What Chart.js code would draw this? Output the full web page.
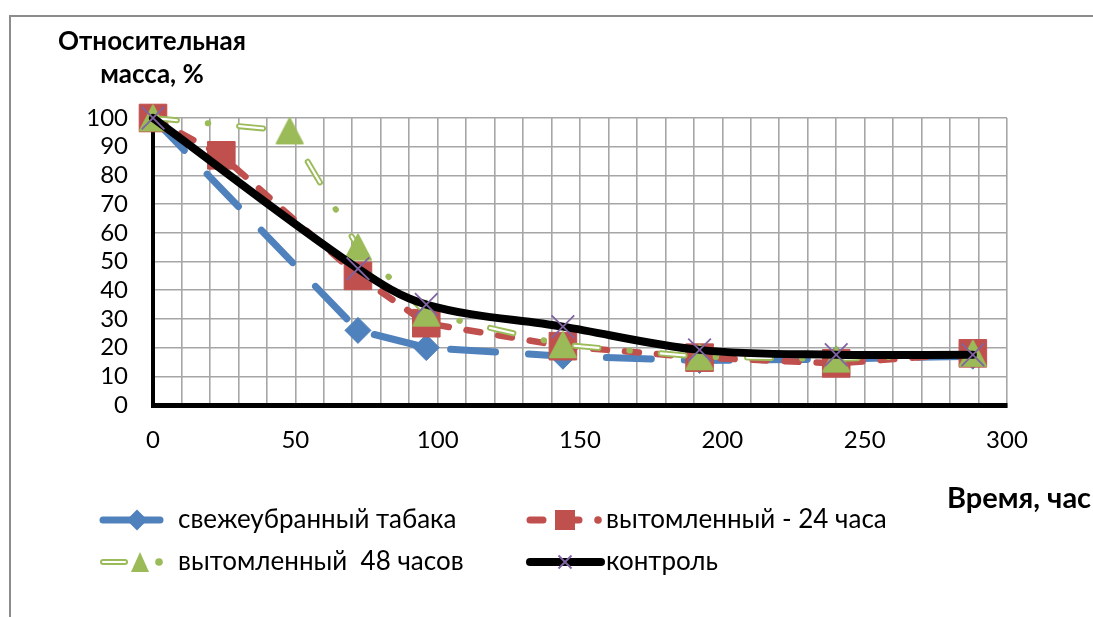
<!DOCTYPE html>
<html>
<head>
<meta charset="utf-8">
<script src="https://cdn.jsdelivr.net/npm/chart.js@4/dist/chart.umd.min.js"></script>
<style>
  html, body { margin: 0; padding: 0; background: #fff; }
  canvas { display: block; }
</style>
</head>
<body>
<canvas id="chart" width="1093" height="617"></canvas>
<script>
// Drying curves: relative mass (%) versus time (hours)
const hoursFresh   = [0, 72, 96, 144, 192, 240, 288];
const massFresh    = [100, 26, 20, 17, 15.5, 16, 17];

const hours24      = [0, 24, 72, 96, 144, 192, 240, 288];
const mass24       = [100, 87, 45, 28.5, 20.5, 16.5, 14.5, 18];

const hours48      = [0, 48, 72, 96, 144, 192, 240, 288];
const mass48       = [100, 95.5, 55, 32, 21, 16.8, 16, 18];

const hoursControl = [0, 72, 96, 144, 192, 240, 288];
const massControl  = [100, 47.5, 35, 27.3, 19.2, 17.5, 17.5];

const seriesNames = ['свежеубранный табака', 'вытомленный - 24 часа', 'вытомленный  48 часов', 'контроль'];
const yTitleLines = ['Относительная', 'масса, %'];
const xTitle = 'Время, час';

const BLUE = '#4F81BD', RED = '#C0504D', GREEN = '#9BBB59', PURPLE = '#8064A2';
const FONT = 'Lato, "Noto Sans", sans-serif';

const toPoints = (xs, ys) => xs.map((x, i) => ({ x: x, y: ys[i] }));

// Triangle marker centred on its bounding box
function triangleMarker(w, h, color) {
  const pad = 2;
  const c = document.createElement('canvas');
  c.width = w + pad * 2; c.height = h + pad * 2;
  const g = c.getContext('2d');
  g.beginPath();
  g.moveTo(c.width / 2, pad);
  g.lineTo(pad + w, pad + h);
  g.lineTo(pad, pad + h);
  g.closePath();
  g.fillStyle = color; g.fill();
  g.lineJoin = 'round'; g.lineWidth = 2; g.strokeStyle = color; g.stroke();
  return c;
}
const triangleImg = triangleMarker(26, 25, GREEN);

// Background, outer frame, titles and legend
const decorations = {
  id: 'decorations',
  beforeDraw(chart) {
    const ctx = chart.ctx;
    ctx.save();
    ctx.fillStyle = '#fff';
    ctx.fillRect(0, 0, chart.width, chart.height);
    ctx.strokeStyle = '#8c8c8c';
    ctx.lineWidth = 2;
    ctx.beginPath();
    ctx.moveTo(10, chart.height + 5);
    ctx.lineTo(10, 16);
    ctx.lineTo(chart.width + 5, 16);
    ctx.stroke();
    ctx.restore();
  },
  afterDraw(chart) {
    const ctx = chart.ctx;
    ctx.save();
    ctx.fillStyle = '#000';
    ctx.textBaseline = 'middle';
    ctx.font = 'bold 26px ' + FONT;
    ctx.textAlign = 'center';
    ctx.fillText(yTitleLines[0], 152, 42);
    ctx.fillText(yTitleLines[1], 152, 75);
    ctx.textAlign = 'left';
    ctx.font = 'bold 29px ' + FONT;
    ctx.fillText(xTitle, 947, 499);

    const r1 = 520, r2 = 562;
    const seg = (x1, x2, y, color, w) => {
      ctx.strokeStyle = color; ctx.lineWidth = w; ctx.lineCap = 'round';
      ctx.beginPath(); ctx.moveTo(x1, y); ctx.lineTo(x2, y); ctx.stroke();
    };
    const dot = (x, y, r, color) => {
      ctx.fillStyle = color; ctx.beginPath(); ctx.arc(x, y, r, 0, Math.PI * 2); ctx.fill();
    };

    // свежеубранный
    seg(103, 160, r1, BLUE, 7);
    ctx.fillStyle = BLUE;
    ctx.beginPath();
    ctx.moveTo(137 - 10.5, r1); ctx.lineTo(137, r1 - 10.5); ctx.lineTo(137 + 10.5, r1); ctx.lineTo(137, r1 + 10.5);
    ctx.closePath(); ctx.fill();

    // 24 часа
    seg(530, 543, r1, RED, 7);
    seg(574, 579, r1, RED, 7);
    dot(598, r1, 3.8, RED);
    ctx.fillStyle = RED;
    ctx.fillRect(555, r1 - 10, 20, 20);

    // 48 часов
    seg(103, 125, r2, GREEN, 6);
    seg(103, 125, r2, '#fff', 2.2);
    ctx.fillStyle = GREEN;
    ctx.beginPath();
    ctx.moveTo(140, r2 - 10); ctx.lineTo(149, r2 + 10); ctx.lineTo(131, r2 + 10); ctx.closePath(); ctx.fill();
    dot(159, r2, 3.8, GREEN);

    // контроль
    seg(530, 601, r2, '#000', 8);
    ctx.strokeStyle = PURPLE; ctx.lineWidth = 1.8; ctx.lineCap = 'butt';
    ctx.beginPath();
    ctx.moveTo(558.5, r2 - 6.5); ctx.lineTo(571.5, r2 + 6.5);
    ctx.moveTo(571.5, r2 - 6.5); ctx.lineTo(558.5, r2 + 6.5);
    ctx.stroke();

    ctx.fillStyle = '#000';
    ctx.font = '26px ' + FONT;
    ctx.textAlign = 'left';
    ctx.fillText(seriesNames[0], 178, r1);
    ctx.fillText(seriesNames[1], 606, r1);
    ctx.fillText(seriesNames[2], 178, r2);
    ctx.fillText(seriesNames[3], 606, r2);
    ctx.restore();
  }
};

new Chart(document.getElementById('chart'), {
  type: 'line',
  data: {
    datasets: [
      {
        label: seriesNames[3],
        data: toPoints(hoursControl, massControl),
        borderColor: '#000', borderWidth: 8, tension: 0.35,
        borderCapStyle: 'round', borderJoinStyle: 'round',
        pointStyle: 'crossRot', pointRadius: 16, pointBorderWidth: 1.8,
        pointBorderColor: PURPLE, pointBackgroundColor: PURPLE,
        clip: false, order: 0
      },
      {
        label: seriesNames[2] + ' markers',
        data: toPoints(hours48, mass48),
        showLine: false,
        pointStyle: triangleImg, pointRadius: 14,
        clip: false, order: 1
      },
      {
        label: seriesNames[2] + ' core',
        data: toPoints(hours48, mass48),
        borderColor: '#fff', borderWidth: 2.2,
        borderDash: [24, 62.5], borderCapStyle: 'round',
        pointRadius: 0, clip: false, order: 2
      },
      {
        label: seriesNames[2],
        data: toPoints(hours48, mass48),
        borderColor: GREEN, borderWidth: 6,
        borderDash: [24, 31, 0.5, 31], borderCapStyle: 'round',
        pointRadius: 0, clip: false, order: 3
      },
      {
        label: seriesNames[1],
        data: toPoints(hours24, mass24),
        borderColor: RED, borderWidth: 6.5,
        borderDash: [14, 18], borderCapStyle: 'round',
        pointStyle: 'rect', pointRadius: 19.5, pointBorderWidth: 1,
        pointBackgroundColor: RED, pointBorderColor: RED,
        clip: false, order: 4
      },
      {
        label: seriesNames[0],
        data: toPoints(hoursFresh, massFresh),
        borderColor: BLUE, borderWidth: 7,
        borderDash: [45, 33], borderCapStyle: 'round',
        pointStyle: 'rectRot', pointRadius: 13, pointBorderWidth: 1,
        pointBackgroundColor: BLUE, pointBorderColor: BLUE,
        clip: false, order: 5
      }
    ]
  },
  options: {
    responsive: false,
    devicePixelRatio: 1,
    animation: false,
    events: [],
    layout: { padding: { left: 0, right: 86, top: 118, bottom: 162 } },
    plugins: { legend: { display: false }, tooltip: { enabled: false }, title: { display: false } },
    scales: {
      x: {
        type: 'linear', min: 0, max: 300,
        afterFit: (s) => { s.height = 50; },
        grid: { color: '#a6a6a6', lineWidth: 1.6, drawTicks: false },
        border: { color: '#000', width: 5 },
        ticks: {
          stepSize: 10, autoSkip: false, maxRotation: 0, padding: 21,
          color: '#000', font: { family: FONT, size: 24 },
          callback: (v) => (v % 50 === 0 ? String(v) : '')
        }
      },
      y: {
        min: 0, max: 100,
        afterFit: (s) => { s.width = 153; },
        grid: { color: '#a6a6a6', lineWidth: 1.6, drawTicks: false },
        border: { color: '#000', width: 4 },
        ticks: {
          stepSize: 10, autoSkip: false, padding: 25,
          color: '#000', font: { family: FONT, size: 24 }
        }
      }
    }
  },
  plugins: [decorations]
});
</script>
</body>
</html>
